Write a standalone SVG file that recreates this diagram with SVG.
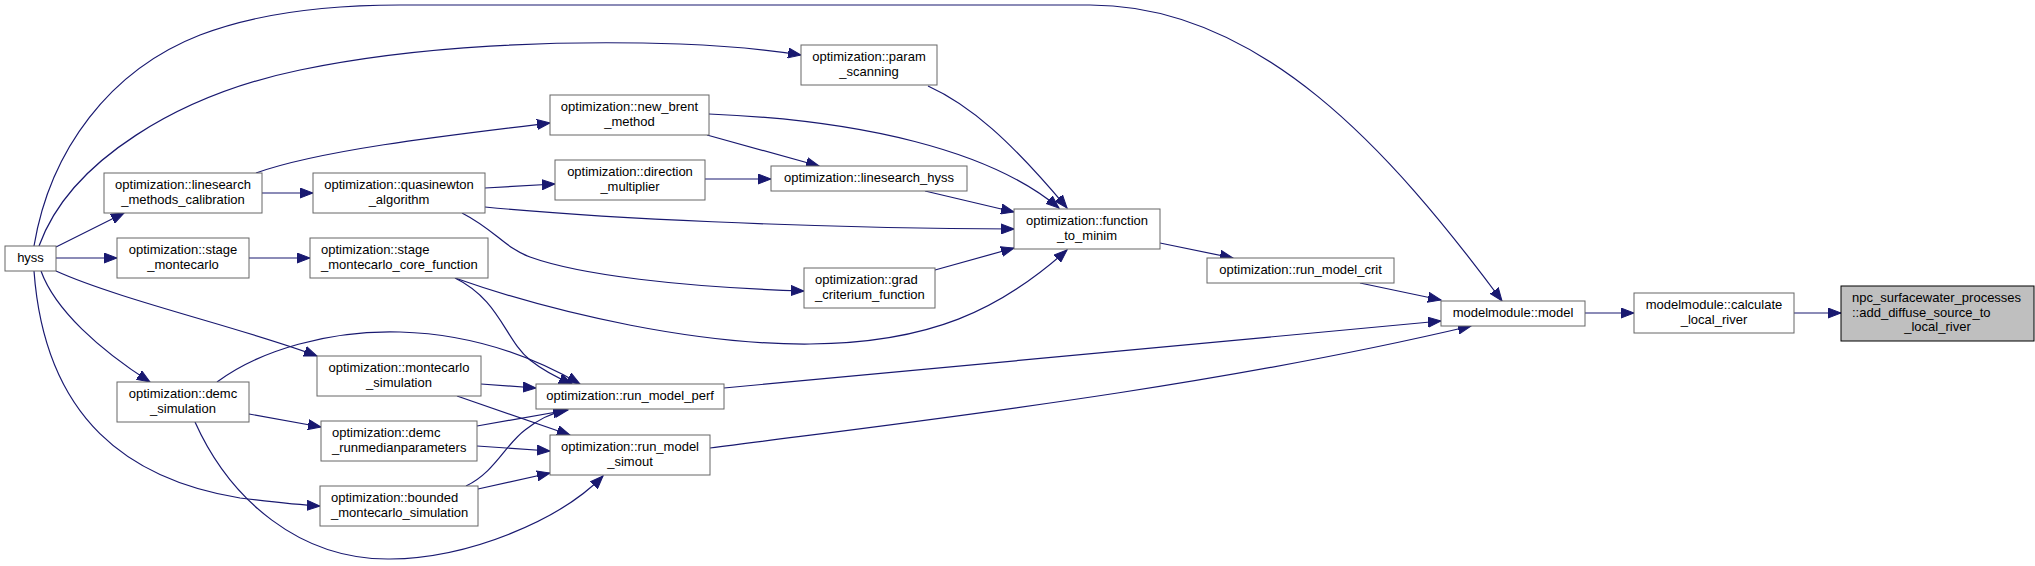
<svg xmlns="http://www.w3.org/2000/svg" width="2035" height="566" viewBox="0 0 2035 566">
<style>
.n rect{fill:#ffffff;stroke:#666666;stroke-width:1}
.root rect{fill:#bfbfbf;stroke:#000000;stroke-width:1}
text{font-family:"Liberation Sans",Arial,sans-serif;font-size:13px;fill:#000000}
.c{text-anchor:middle}
.l{text-anchor:start}
#edges path{fill:none;stroke:#191970;stroke-width:1.2;marker-end:url(#arr)}
</style>
<defs>
<marker id="arr" markerUnits="userSpaceOnUse" markerWidth="14" markerHeight="11" viewBox="0 0 14 11" refX="13" refY="5.5" orient="auto">
<path d="M0,0.5 L13,5.5 L0,10.5 z" fill="#191970" stroke="#191970" stroke-width="1"/>
</marker>
</defs>
<rect x="0" y="0" width="2035" height="566" fill="#ffffff"/>
<g id="edges">
<path d="M1794,313 L1841,313"/>
<path d="M1585,313 L1634,313"/>
<path d="M1360,283 L1441,300"/>
<path d="M34,246 C50,150 110,70 200,35 C260,12 330,5 400,5 L1090,5 C1260,5 1390,150 1502,301"/>
<path d="M724,388 L1441,321"/>
<path d="M710,448 C900,423 1200,390 1471,326"/>
<path d="M1160,243 L1233,258"/>
<path d="M928,86 C970,105 1010,140 1067,208"/>
<path d="M709,114 C860,120 990,150 1059,208"/>
<path d="M707,135 L819,166"/>
<path d="M705,179 L771,179"/>
<path d="M925,191 L1014,212"/>
<path d="M485,207 C600,218 800,228 1014,229"/>
<path d="M485,188 L555,184"/>
<path d="M462,213 C495,230 505,248 530,257 C580,275 680,287 804,291"/>
<path d="M935,270 L1014,248"/>
<path d="M455,278 C560,315 700,345 810,344 C930,343 1000,310 1067,250"/>
<path d="M455,278 C500,300 505,340 530,360 C545,372 558,378 572,384"/>
<path d="M256,173 C320,150 450,135 550,123"/>
<path d="M262,193 L313,193"/>
<path d="M249,258 L310,258"/>
<path d="M56,247 L124,213"/>
<path d="M56,258 L117,258"/>
<path d="M39,246 C70,160 180,95 300,70 C420,45 560,40 680,44 C730,46 770,50 801,55"/>
<path d="M56,271 C120,300 250,330 317,356"/>
<path d="M41,271 C55,310 100,350 150,382"/>
<path d="M34,271 C45,420 130,480 240,498 C280,503 300,505 320,506"/>
<path d="M217,382 C260,350 330,330 400,332 C470,334 530,355 580,384"/>
<path d="M249,414 L321,427"/>
<path d="M195,422 C230,500 300,560 390,559 C470,558 560,520 603,476"/>
<path d="M481,384 L536,388"/>
<path d="M457,396 L570,435"/>
<path d="M477,426 L568,410"/>
<path d="M477,446 L550,451"/>
<path d="M466,486 C495,472 505,445 525,430 C540,418 552,413 566,410"/>
<path d="M478,489 L550,473"/>
</g>
<g id="hyss" class="n"><rect x="5" y="246" width="51" height="25"/><text class="c" x="30.5" y="262">hyss</text></g>
<g id="linesearch_methods_calibration" class="n"><rect x="104" y="173" width="158" height="40"/><text class="c" x="183" y="189">optimization::linesearch</text><text class="c" x="183" y="204">_methods_calibration</text></g>
<g id="quasinewton_algorithm" class="n"><rect x="313" y="173" width="172" height="40"/><text class="c" x="399" y="189">optimization::quasinewton</text><text class="c" x="399" y="204">_algorithm</text></g>
<g id="stage_montecarlo" class="n"><rect x="117" y="238" width="132" height="40"/><text class="c" x="183" y="254">optimization::stage</text><text class="c" x="183" y="269">_montecarlo</text></g>
<g id="stage_montecarlo_core_function" class="n"><rect x="310" y="238" width="178" height="40"/><text class="l" x="321" y="254">optimization::stage</text><text class="l" x="321" y="269">_montecarlo_core_function</text></g>
<g id="new_brent_method" class="n"><rect x="550" y="95" width="159" height="40"/><text class="c" x="629.5" y="111">optimization::new_brent</text><text class="c" x="629.5" y="126">_method</text></g>
<g id="direction_multiplier" class="n"><rect x="555" y="160" width="150" height="40"/><text class="c" x="630" y="176">optimization::direction</text><text class="c" x="630" y="191">_multiplier</text></g>
<g id="param_scanning" class="n"><rect x="801" y="45" width="136" height="40"/><text class="c" x="869" y="61">optimization::param</text><text class="c" x="869" y="76">_scanning</text></g>
<g id="linesearch_hyss" class="n"><rect x="771" y="166" width="196" height="25"/><text class="c" x="869" y="182">optimization::linesearch_hyss</text></g>
<g id="function_to_minim" class="n"><rect x="1014" y="209" width="146" height="40"/><text class="c" x="1087" y="225">optimization::function</text><text class="c" x="1087" y="240">_to_minim</text></g>
<g id="grad_criterium_function" class="n"><rect x="804" y="268" width="131" height="40"/><text class="l" x="815" y="284">optimization::grad</text><text class="l" x="815" y="299">_criterium_function</text></g>
<g id="run_model_crit" class="n"><rect x="1207" y="258" width="187" height="25"/><text class="c" x="1300.5" y="274">optimization::run_model_crit</text></g>
<g id="model" class="n"><rect x="1441" y="301" width="144" height="25"/><text class="c" x="1513" y="317">modelmodule::model</text></g>
<g id="calculate_local_river" class="n"><rect x="1634" y="293" width="160" height="40"/><text class="c" x="1714" y="309">modelmodule::calculate</text><text class="c" x="1714" y="324">_local_river</text></g>
<g id="add_diffuse_source_to_local_river" class="root"><rect x="1841" y="286" width="193" height="55"/><text class="l" x="1852" y="302">npc_surfacewater_processes</text><text class="l" x="1852" y="317">::add_diffuse_source_to</text><text class="c" x="1937.5" y="331">_local_river</text></g>
<g id="demc_simulation" class="n"><rect x="117" y="382" width="132" height="40"/><text class="c" x="183" y="398">optimization::demc</text><text class="c" x="183" y="413">_simulation</text></g>
<g id="montecarlo_simulation" class="n"><rect x="317" y="356" width="164" height="40"/><text class="c" x="399" y="372">optimization::montecarlo</text><text class="c" x="399" y="387">_simulation</text></g>
<g id="demc_runmedianparameters" class="n"><rect x="321" y="421" width="156" height="40"/><text class="l" x="332" y="437">optimization::demc</text><text class="l" x="332" y="452">_runmedianparameters</text></g>
<g id="bounded_montecarlo_simulation" class="n"><rect x="320" y="486" width="158" height="40"/><text class="l" x="331" y="502">optimization::bounded</text><text class="l" x="331" y="517">_montecarlo_simulation</text></g>
<g id="run_model_perf" class="n"><rect x="536" y="384" width="188" height="25"/><text class="c" x="630" y="400">optimization::run_model_perf</text></g>
<g id="run_model_simout" class="n"><rect x="550" y="435" width="160" height="40"/><text class="c" x="630" y="451">optimization::run_model</text><text class="c" x="630" y="466">_simout</text></g>
</svg>
